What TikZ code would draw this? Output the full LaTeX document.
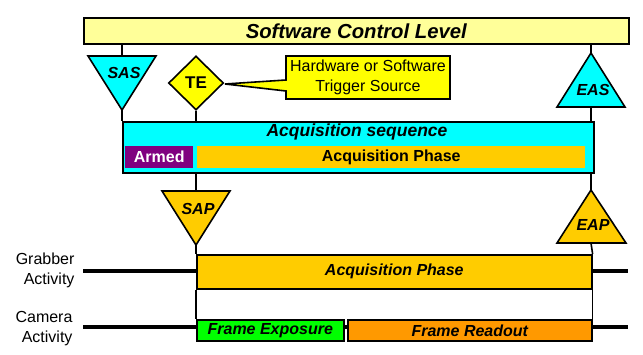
\documentclass[tikz,border=0pt]{standalone}
\usepackage{fontspec}
\setmainfont{Liberation Sans}
\usetikzlibrary{shapes.geometric}
\definecolor{lyellow}{HTML}{FFFF99}
\definecolor{pyellow}{HTML}{FFFF00}
\definecolor{pcyan}{HTML}{00FFFF}
\definecolor{ppurple}{HTML}{800080}
\definecolor{porange}{HTML}{FFCC00}
\definecolor{pdorange}{HTML}{FF9900}
\definecolor{pgreen}{HTML}{00FF00}
\tikzset{
  conn/.style={line width=1.6pt},
  border/.style={draw=black,line width=1.6pt},
  rbox/.style={rectangle,inner sep=0pt,anchor=north west},
  bi/.style={font=\fontsize{16}{19}\selectfont\bfseries\itshape},
  bn/.style={font=\fontsize{16}{19}\selectfont\bfseries},
  rn/.style={font=\fontsize{16}{20}\selectfont},
  activity/.style={line width=4.7pt},
}
\begin{document}
\begin{tikzpicture}[x=1pt,y=-1pt]
\useasboundingbox (0,0) rectangle (643,355);
% top bar
\node[rbox,border,fill=lyellow,minimum width=545pt,minimum height=26pt,
  font=\fontsize{20.3}{24}\selectfont\bfseries\itshape] (scl) at (83,17) {Software Control Level};
% SAS
\coordinate (sasTop) at (122,56);
\coordinate (sasT) at (122,110);
\draw[border,fill=pcyan] (88,56) -- (156,56) -- (sasT) -- cycle;
\node[bi] (sas) at (124,73) {SAS};
% TE
\node[diamond,draw=black,line width=1.6pt,fill=pyellow,minimum width=55pt,minimum height=54pt,
  inner sep=0pt,font=\fontsize{17}{20}\selectfont\bfseries] (te) at (196,83) {TE};
% callout
\coordinate (tip) at (225,84);
\draw[border,fill=pyellow] (286,56) -- (450,56) -- (450,99) -- (286,99) -- (286,91) -- (tip) -- (286,80) -- cycle;
\node[rn,align=center] (callout) at (368,77.5) {Hardware or Software\\Trigger Source};
% EAS
\coordinate (easT) at (591,53);
\coordinate (easB) at (591,107);
\draw[border,fill=pcyan] (easT) -- (625,107) -- (557,107) -- cycle;
\node[bi] (eas) at (593,90) {EAS};
% acquisition sequence
\node[rbox,border,fill=pcyan,minimum width=471pt,minimum height=51pt] (seq) at (122,121) {};
\node[font=\fontsize{17.5}{21}\selectfont\bfseries\itshape] (seqt) at (357,132) {Acquisition sequence};
\node[rbox,fill=ppurple,minimum width=68pt,minimum height=22pt] (armed) at (125,146) {};
\node[bn,text=white] at (armed.center) {Armed};
\node[rbox,fill=porange,minimum width=388pt,minimum height=22pt] (aphase) at (197,146) {};
\node[bn] at (aphase.center) {Acquisition Phase};
% SAP
\coordinate (sapTop) at (196,191);
\coordinate (sapT) at (196,245);
\draw[border,fill=porange] (162,191) -- (230,191) -- (sapT) -- cycle;
\node[bi] (sap) at (198,209) {SAP};
% EAP
\coordinate (eapT) at (591,190);
\coordinate (eapB) at (591,243);
\draw[border,fill=porange] (eapT) -- (626,243) -- (557,243) -- cycle;
\node[bi] (eap) at (593,225) {EAP};
% grabber
\draw[activity] (83,271) -- (196,271);
\draw[activity] (591,271) -- (628,271);
\node[rbox,border,fill=porange,minimum width=395pt,minimum height=34pt] (gphase) at (196,254) {};
\node[bi] at (gphase.center) {Acquisition Phase};
\node[rn,align=right,anchor=east] (glabel) at (78,270) {Grabber\\Activity};
% camera
\draw[activity] (83,327) -- (196,327);
\draw[activity] (591,327) -- (628,327);
\draw[activity] (342,327) -- (348,327);
\node[rbox,border,fill=pgreen,minimum width=147pt,minimum height=21pt] (fexp) at (196,319) {};
\node[bi] at (fexp.center) {Frame Exposure};
\node[rbox,border,fill=pdorange,minimum width=244pt,minimum height=21pt] (fread) at (347,319) {};
\node[bi] at (fread.center) {Frame Readout};
\node[rn,align=right,anchor=east] (clabel) at (76,329) {Camera\\Activity};
% connectors
\draw[conn] (scl.south -| sasTop) -- (sasTop);
\draw[conn] (sasT) -- (seq.north -| sasT);
\draw[conn] (te.south) -- (seq.north -| te.south);
\draw[conn] (scl.south -| easT) -- (easT);
\draw[conn] (easB) -- (seq.north -| easB);
\draw[conn] (seq.south -| sapTop) -- (sapTop);
\draw[conn] (seq.south -| eapT) -- (eapT);
\draw[conn] (sapT) -- (gphase.north west);
\draw[conn] (eapB) -- (gphase.north east);
\draw[conn] (gphase.south west) -- (fexp.north west);
\draw[conn] (gphase.south east) -- (fread.north east);
\end{tikzpicture}
\end{document}
